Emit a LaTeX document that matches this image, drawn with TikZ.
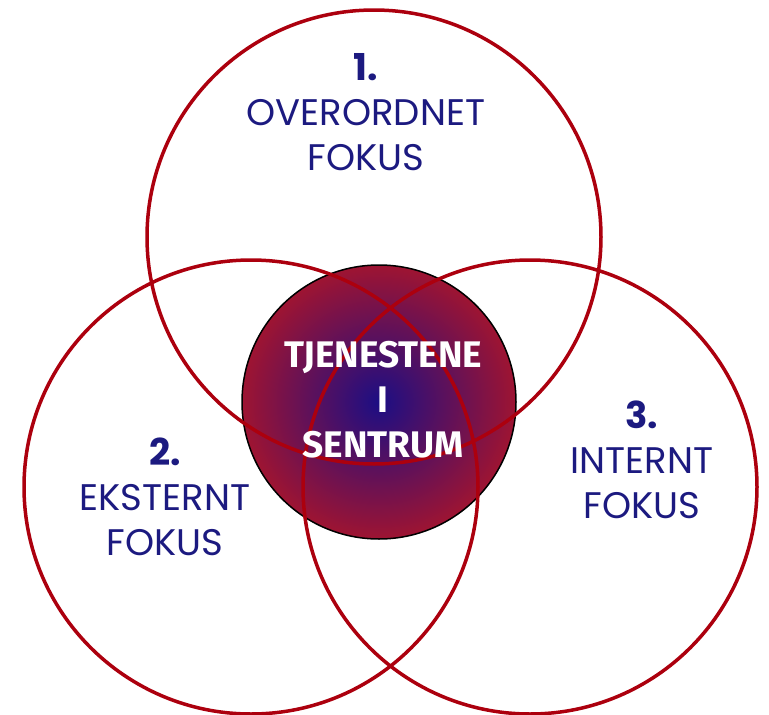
\documentclass[tikz,border=0pt]{standalone}
\usepackage{fontspec}
\setmainfont{Poppins}
\newfontfamily\midfont{Fira Sans}
\definecolor{ringred}{HTML}{AC000E}
\definecolor{textblue}{HTML}{1C1A80}
\definecolor{midblue}{HTML}{1C0E84}
\definecolor{midred}{HTML}{9E1432}
\tikzset{
        ring/.style={circle, draw=ringred, line width=3.5pt, minimum size=454pt, inner sep=0pt},
        core/.style={circle, draw=black, line width=1.5pt, minimum size=274pt, inner sep=0pt,
                inner color=midblue, outer color=midred},
        focus/.style={text=textblue, align=center, font=\fontsize{37}{45}\selectfont},
}
\begin{document}
\begin{tikzpicture}[x=1pt, y=-1pt]
        \useasboundingbox (0,0) rectangle (769,715);
        \node [core] (core) at (379,402) {};
        \foreach \name/\x/\y in {ringtop/374/237, ringleft/251/487, ringright/530/487}
        {
                \node [ring] (\name) at (\x,\y) {};
        }
        \node [focus] (focustop) at (366,112) {\textbf{1.}\\OVERORDNET\\FOKUS};
        \node [focus] (focusleft) at (165,497) {\textbf{2.}\\EKSTERNT\\FOKUS};
        \node [focus] (focusright) at (642,460) {\textbf{3.}\\INTERNT\\FOKUS};
        \node [text=white, align=center, font=\midfont\bfseries\fontsize{37}{45}\selectfont]
                (coretext) at (383,400) {TJENESTENE\\I\\SENTRUM};
\end{tikzpicture}
\end{document}
